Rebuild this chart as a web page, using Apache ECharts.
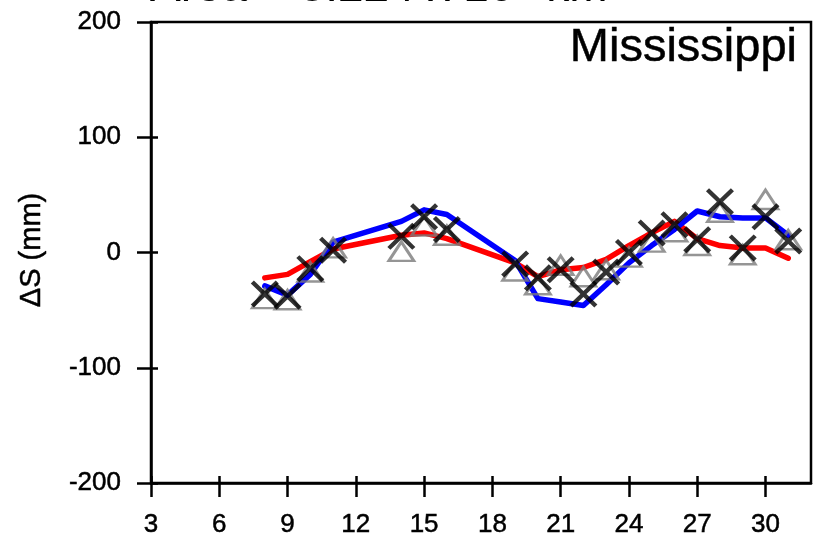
<!DOCTYPE html>
<html>
<head>
<meta charset="utf-8">
<script src="https://cdn.jsdelivr.net/npm/echarts@6/dist/echarts.min.js"></script>
<style>
  html, body { margin: 0; padding: 0; background: #fff; }
  #chart { width: 823px; height: 541px; }
</style>
</head>
<body>
<div id="chart"></div>
<script>
// Day of month for each monthly sample
const days = [8, 9, 10, 11, 14, 15, 16, 19, 20, 21, 22, 23, 24, 25, 26, 27, 28, 29, 30, 31];
// Storage change estimates (mm)
const redLine   = [-22, -19, -8, 3, 15, 17, 12, -9, -21, -15, -13, -6, 6, 17, 27, 12, 6, 4, 4, -5];
const blueLine  = [-29, -37, -19, 9, 27, 37, 33, -7, -40, -43, -46, -28, -9, 6, 20, 36, 31, 30, 30, 15];
const crossPts  = [-36, -38, -14, 2, 14, 31, 20, -10, -22, -15, -36, -17, 0, 17, 24, 11, 44, 4, 31, 10];
const trianglePts = [-40, -41, -17, 4, 1, 23, 15, -16, -28, -11, -21, -15, -4, 9, 18, 6, 35, -2, 46, 11];

const xTicks = [3, 6, 9, 12, 15, 18, 21, 24, 27, 30];
const yTicks = [-200, -100, 0, 100, 200];

const FONT = "'Liberation Sans', Arial, Helvetica, sans-serif";

function pairs(vals) {
  return days.map((d, i) => [d, vals[i]]);
}

// X-shaped marker as a filled polygon
const crossPath = 'path://M0,11 L11,0 L50,39 L89,0 L100,11 L61,50 L100,89 L89,100 L50,61 L11,100 L0,89 L39,50 Z';

const axisLineStyle = { color: '#000', width: 2.5 };
const labelStyle = { fontSize: 26, color: '#000', fontFamily: FONT,
                     textBorderColor: '#000', textBorderWidth: 0.5 };

function xAxisDef(inside) {
  return {
    type: 'value', min: 3, max: 32, position: 'bottom',
    axisLine: { show: !inside, onZero: false, lineStyle: axisLineStyle },
    axisTick: { show: true, customValues: xTicks, inside: inside, length: inside ? 7 : 14,
                lineStyle: { color: '#000', width: 2.5 } },
    axisLabel: inside ? { show: false } : Object.assign({ customValues: xTicks, margin: 29 }, labelStyle),
    splitLine: { show: false }
  };
}

function yAxisDef(inside) {
  return {
    type: 'value', min: -200, max: 200, position: 'left',
    axisLine: { show: !inside, onZero: false, lineStyle: axisLineStyle },
    axisTick: { show: true, customValues: yTicks, inside: inside, length: inside ? 7 : 14,
                lineStyle: { color: '#000', width: 2.5 } },
    axisLabel: inside ? { show: false } : Object.assign({ customValues: yTicks, margin: 30 }, labelStyle),
    splitLine: { show: false }
  };
}

const chart = echarts.init(document.getElementById('chart'), null, { renderer: 'canvas' });

chart.setOption({
  animation: false,
  backgroundColor: '#fff',
  grid: {
    left: 151, right: 12, top: 22, bottom: 58,
    show: true, borderColor: '#000', borderWidth: 2.5, backgroundColor: 'transparent'
  },
  xAxis: [xAxisDef(false), xAxisDef(true)],
  yAxis: [yAxisDef(false), yAxisDef(true)],
  graphic: [
    {
      type: 'text', x: 150, y: -12, z: 10,
      style: { text: 'Area = 3.224 x 10\u2076 km\u00b2', font: "46px " + FONT, fill: '#000',
               textAlign: 'left', textVerticalAlign: 'middle' }
    },
    {
      type: 'text', x: 797, y: 48, z: 10,
      style: { text: 'Mississippi', font: "47px " + FONT, fill: '#000',
               textAlign: 'right', textVerticalAlign: 'middle',
               stroke: '#000', lineWidth: 0.5 }
    },
    {
      type: 'text', x: 32, y: 250, rotation: Math.PI / 2, z: 10,
      style: { text: '\u0394S (mm)', font: "29px " + FONT, fill: '#000',
               textAlign: 'center', textVerticalAlign: 'middle',
               stroke: '#000', lineWidth: 0.5 }
    }
  ],
  series: [
    {
      name: 'red', type: 'line', data: pairs(redLine), showSymbol: false, z: 2,
      lineStyle: { color: '#ff0000', width: 5.5, join: 'round', cap: 'round' }
    },
    {
      name: 'blue', type: 'line', data: pairs(blueLine), showSymbol: false, z: 3,
      lineStyle: { color: '#0000ff', width: 5.5, join: 'round', cap: 'round' }
    },
    {
      name: 'triangles', type: 'scatter', data: pairs(trianglePts), z: 4,
      symbol: 'triangle', symbolSize: [25, 19],
      itemStyle: { color: 'rgba(0,0,0,0)', borderColor: '#7a7a7a', borderWidth: 2.8 }
    },
    {
      name: 'crosses', type: 'scatter', data: pairs(crossPts), z: 5,
      symbol: crossPath, symbolSize: [28, 27],
      itemStyle: { color: '#000' }
    }
  ]
});
</script>
</body>
</html>
